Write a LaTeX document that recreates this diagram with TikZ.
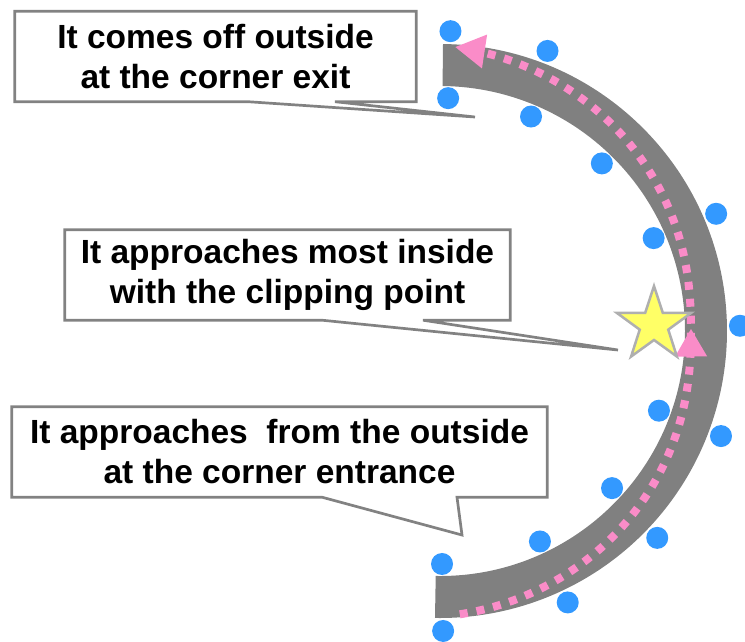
\documentclass[tikz,border=0pt]{standalone}
\usepackage{fontspec}
\setmainfont{Liberation Sans}
\usetikzlibrary{shapes.geometric, arrows.meta, decorations.markings}

\definecolor{roadgray}{RGB}{128,128,128}
\definecolor{coneblue}{RGB}{51,153,255}
\definecolor{linepink}{RGB}{250,140,200}
\definecolor{staryellow}{RGB}{255,255,102}
\definecolor{starrim}{RGB}{175,175,175}
\definecolor{boxgray}{RGB}{130,130,130}

\begin{document}
\begin{tikzpicture}[x=1pt, y=-1pt,
        textbox/.style={minimum width=#1, minimum height=90pt, inner sep=0pt, align=center,
                        font=\fontsize{33.5}{40}\selectfont\bfseries},
        callout/.style={draw=boxgray, line width=2.7pt, line join=miter},
        cone/.style={fill=coneblue},
        road/.style={fill=roadgray},
        racingline/.style={draw=linepink, line width=8pt, dash pattern=on 8pt off 9pt}
    ]
    \useasboundingbox (0,0) rectangle (745,641);

    % Road and cones
    \begin{scope}[shift={(440,331)}, y=1pt]
        \fill[road] (89.4:287) arc[start angle=89.4, end angle=-91, radius=287]
            -- (-91:245) arc[start angle=-91, end angle=89.4, radius=245] -- cycle;
        \foreach \a in {88,69,23,1,-20.5,-43.6,-64.8,-89.4}
            \fill[cone] (\a:300) circle[radius=11];
        \foreach \a in {88,67,46,23.5,-20,-42.4,-64.6,-89.5}
            \fill[cone] (\a:233) circle[radius=11];
        % Racing line
        \draw[racingline, -{Triangle[length=30pt, width=32pt]},
              postaction={decorate, decoration={markings,
                  mark=at position 0.5 with {\arrow{Triangle[length=28pt, width=30pt]}}}}]
            plot[domain=-86:87, samples=80, smooth] (\x:{251+33*(sqrt(\x*\x+100)-10)/76.58});
    \end{scope}

    % Clipping point
    \node[star, star points=5, star point ratio=2.6, minimum size=78pt, inner sep=0pt,
          fill=staryellow, draw=starrim, line width=2.5pt] (apex) at (654,325) {};

    % Callouts
    \node[textbox=401pt] (exitbox) at (215.5,56.5) {It comes off outside\\at the corner exit};
    \node[textbox=445pt] (clipbox) at (287.5,275) {It approaches most inside\\with the clipping point};
    \node[textbox=535pt] (entrybox) at (279.5,452) {It approaches~ from the outside\\at the corner entrance};

    \coordinate (exittip) at (475,117);
    \coordinate (cliptip) at (618,350);
    \coordinate (entrytip) at (462,535);

    \draw[callout] (exitbox.north west) -- (exitbox.north east) -- (exitbox.south east)
        -- (335,0 |- exitbox.south) -- (exittip) -- (248,0 |- exitbox.south)
        -- (exitbox.south west) -- cycle;
    \draw[callout] (clipbox.north west) -- (clipbox.north east) -- (clipbox.south east)
        -- (423,0 |- clipbox.south) -- (cliptip) -- (322,0 |- clipbox.south)
        -- (clipbox.south west) -- cycle;
    \draw[callout] (entrybox.north west) -- (entrybox.north east) -- (entrybox.south east)
        -- (457,0 |- entrybox.south) -- (entrytip) -- (322,0 |- entrybox.south)
        -- (entrybox.south west) -- cycle;
\end{tikzpicture}
\end{document}
